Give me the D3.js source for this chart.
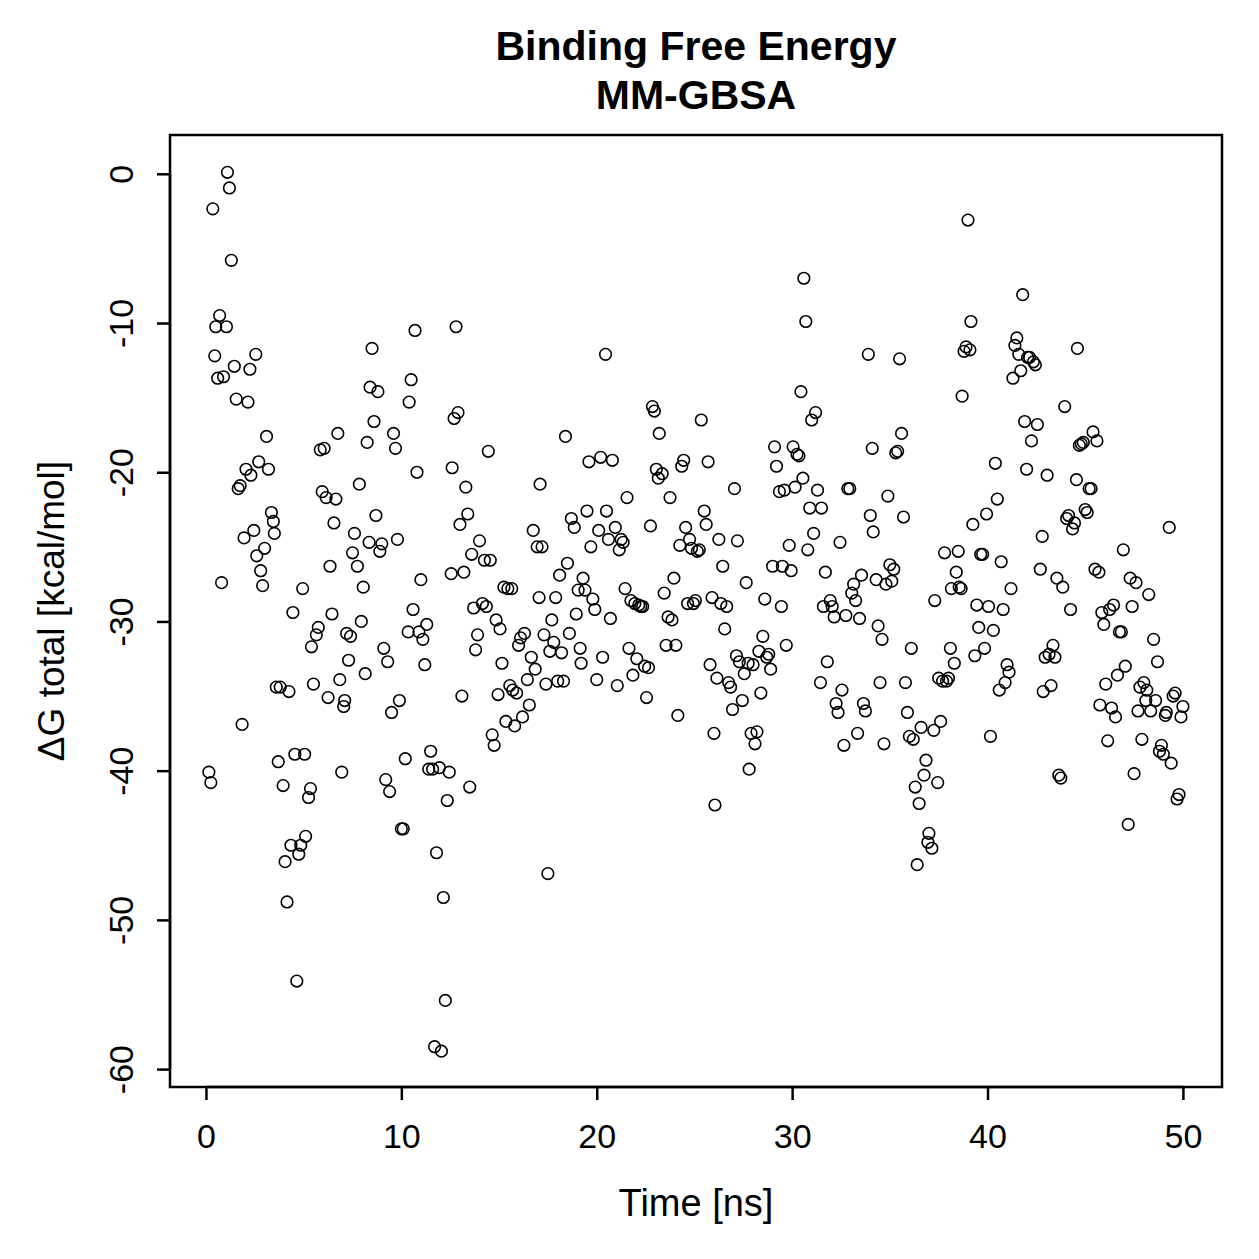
<!DOCTYPE html>
<html lang="en">
<head>
<meta charset="utf-8">
<title>Binding Free Energy MM-GBSA</title>
<script src="https://d3js.org/d3.v7.min.js"></script>
<style>
  body { margin: 0; background: #fff; }
  text { font-family: "Liberation Sans", Arial, Helvetica, sans-serif; fill: #000; }
</style>
</head>
<body>
<div id="chart"></div>
<script>
// time in ns
var time = [
  0.15,0.25,0.35,0.45,0.5,0.6,0.7,0.8,0.9,1.05,1.1,1.2,1.3,1.45,1.55,1.65,1.75,1.85,1.95,2.05,
  2.15,2.25,2.3,2.45,2.55,2.6,2.7,2.8,2.9,3.0,3.1,3.2,3.35,3.45,3.5,3.6,3.7,3.8,3.95,4.05,
  4.15,4.25,4.35,4.45,4.55,4.65,4.75,4.85,4.95,5.05,5.1,5.25,5.35,5.4,5.5,5.65,5.75,5.85,5.95,6.05,
  6.15,6.25,6.35,6.45,6.55,6.65,6.75,6.85,6.95,7.05,7.1,7.2,7.3,7.4,7.5,7.6,7.75,7.85,7.95,8.05,
  8.15,8.25,8.35,8.4,8.5,8.6,8.7,8.8,8.9,9.0,9.1,9.2,9.3,9.4,9.5,9.6,9.7,9.8,9.9,10.0,
  10.1,10.2,10.35,10.4,10.5,10.6,10.7,10.8,10.9,11.0,11.1,11.2,11.3,11.4,11.5,11.6,11.7,11.8,11.95,12.05,
  12.15,12.25,12.35,12.45,12.55,12.6,12.7,12.8,12.9,13.0,13.1,13.2,13.3,13.4,13.5,13.6,13.7,13.8,13.9,14.0,
  14.15,14.25,14.35,14.45,14.55,14.65,14.75,14.85,14.95,15.05,15.15,15.25,15.35,15.45,15.55,15.65,15.7,15.8,15.9,16.0,
  16.1,16.2,16.3,16.45,16.55,16.65,16.75,16.85,16.95,17.05,17.1,17.2,17.3,17.4,17.5,17.6,17.7,17.8,17.9,18.0,
  18.1,18.2,18.3,18.4,18.5,18.6,18.7,18.85,18.95,19.05,19.15,19.2,19.3,19.4,19.5,19.6,19.7,19.8,19.9,20.0,
  20.1,20.2,20.3,20.45,20.5,20.6,20.7,20.8,20.95,21.05,21.15,21.25,21.35,21.45,21.55,21.65,21.75,21.85,21.95,22.05,
  22.15,22.25,22.35,22.45,22.55,22.65,22.75,22.85,22.95,23.05,23.15,23.2,23.35,23.45,23.55,23.65,23.75,23.85,23.95,24.05,
  24.15,24.25,24.35,24.45,24.55,24.65,24.75,24.85,24.95,25.05,25.15,25.25,25.35,25.5,25.6,25.7,25.8,25.9,26.0,26.05,
  26.15,26.25,26.35,26.45,26.55,26.65,26.75,26.85,26.95,27.05,27.15,27.2,27.3,27.45,27.55,27.65,27.75,27.8,27.9,28.0,
  28.1,28.2,28.3,28.4,28.5,28.6,28.7,28.8,28.9,29.0,29.1,29.2,29.35,29.45,29.5,29.6,29.7,29.85,29.95,30.05,
  30.15,30.25,30.35,30.45,30.55,30.6,30.7,30.8,30.9,31.0,31.1,31.2,31.3,31.45,31.5,31.6,31.7,31.8,31.95,32.05,
  32.15,32.25,32.35,32.45,32.55,32.65,32.75,32.85,32.95,33.05,33.15,33.25,33.35,33.45,33.55,33.65,33.75,33.9,34.0,34.1,
  34.15,34.3,34.4,34.5,34.6,34.7,34.8,34.9,35.0,35.1,35.2,35.3,35.4,35.5,35.6,35.7,35.8,35.9,36.0,36.1,
  36.2,36.3,36.4,36.5,36.6,36.75,36.85,36.95,37.0,37.15,37.25,37.3,37.45,37.5,37.6,37.7,37.8,37.9,38.0,38.1,
  38.15,38.3,38.4,38.5,38.55,38.65,38.7,38.8,38.9,39.0,39.1,39.15,39.25,39.35,39.45,39.55,39.65,39.75,39.85,39.95,
  40.05,40.15,40.3,40.4,40.5,40.6,40.7,40.8,40.9,41.0,41.1,41.2,41.3,41.4,41.5,41.6,41.7,41.8,41.9,42.0,
  42.05,42.15,42.25,42.35,42.45,42.55,42.7,42.8,42.85,42.95,43.05,43.15,43.25,43.35,43.45,43.55,43.65,43.75,43.85,43.95,
  44.05,44.15,44.25,44.35,44.45,44.55,44.6,44.7,44.8,44.9,45.0,45.1,45.2,45.3,45.4,45.5,45.6,45.7,45.75,45.85,
  45.95,46.05,46.15,46.25,46.35,46.45,46.55,46.65,46.75,46.85,46.95,47.05,47.2,47.3,47.4,47.5,47.6,47.7,47.8,47.9,
  48.0,48.1,48.15,48.25,48.35,48.5,48.6,48.7,48.8,48.9,49.0,49.1,49.15,49.3,49.4,49.5,49.6,49.7,49.8,49.9,
  50.0
];

// delta G total in kcal/mol
var dG = [
  -40.1,-40.8,-2.35,-12.2,-10.25,-13.7,-9.5,-27.4,-13.6,-10.25,0.1,-0.95,-5.8,-12.9,-15.1,-21.1,-20.9,-36.9,-24.4,-19.8,
  -15.3,-13.1,-20.2,-23.9,-12.1,-25.6,-19.3,-26.6,-27.6,-25.1,-17.6,-19.8,-22.7,-23.3,-24.1,-34.4,-39.4,-34.4,-41.0,-46.1,
  -48.8,-34.7,-45.0,-29.4,-38.9,-54.1,-45.6,-45.0,-27.8,-38.9,-44.4,-41.8,-41.2,-31.7,-34.2,-30.9,-30.4,-18.5,-21.3,-18.4,
  -21.7,-35.1,-26.3,-29.5,-23.4,-21.8,-17.4,-33.9,-40.1,-35.7,-35.3,-30.8,-32.6,-31.0,-25.4,-24.1,-26.3,-20.8,-30.0,-27.7,
  -33.5,-18.0,-24.7,-14.3,-11.7,-16.6,-22.9,-14.6,-25.3,-24.8,-31.8,-40.6,-32.7,-41.4,-36.1,-17.4,-18.4,-24.5,-35.3,-43.9,
  -43.9,-39.2,-30.7,-15.3,-13.8,-29.2,-10.5,-20.0,-30.7,-27.2,-31.2,-32.9,-30.2,-39.9,-38.7,-39.9,-58.5,-45.5,-39.8,-58.8,
  -48.5,-55.4,-42.0,-40.1,-26.8,-19.7,-16.4,-10.25,-16.0,-23.5,-35.0,-26.7,-21.0,-22.8,-41.1,-25.5,-29.1,-31.9,-30.9,-24.6,
  -28.8,-25.9,-29.0,-18.6,-25.9,-37.6,-38.3,-29.9,-34.9,-30.5,-32.8,-27.7,-36.7,-27.8,-34.3,-27.8,-34.6,-37.0,-34.8,-31.6,
  -31.1,-36.4,-30.8,-33.9,-35.6,-32.4,-23.9,-33.2,-25.0,-28.4,-20.8,-25.0,-30.9,-34.2,-46.9,-32.0,-29.9,-31.4,-28.4,-34.0,
  -26.9,-32.1,-34.0,-17.6,-26.1,-30.8,-23.1,-23.7,-29.5,-27.9,-31.8,-32.8,-27.1,-27.9,-22.6,-19.3,-25.0,-28.5,-29.2,-33.9,
  -23.9,-19.0,-32.4,-12.1,-22.6,-24.5,-29.8,-19.2,-23.7,-34.3,-25.2,-24.5,-24.7,-27.8,-21.7,-31.8,-28.6,-33.6,-28.8,-32.5,
  -28.9,-29.0,-29.0,-33.0,-35.1,-33.1,-23.6,-15.6,-15.9,-19.8,-20.4,-17.4,-20.1,-28.1,-31.6,-29.7,-21.7,-29.9,-27.1,-31.6,
  -36.3,-24.9,-19.6,-19.2,-23.7,-28.8,-24.5,-25.1,-28.8,-28.6,-25.3,-25.2,-16.5,-22.6,-23.5,-19.3,-32.9,-28.4,-37.5,-42.3,
  -33.8,-24.5,-28.8,-26.3,-30.5,-29.0,-34.1,-34.4,-35.9,-21.1,-32.3,-24.6,-32.7,-35.3,-33.5,-27.4,-32.8,-39.9,-37.5,-32.9,
  -38.2,-37.4,-32.0,-34.8,-31.0,-28.5,-32.4,-32.2,-33.2,-26.3,-18.3,-19.6,-21.3,-29.0,-26.3,-21.2,-31.6,-24.9,-26.6,-18.3,
  -21.0,-18.8,-18.9,-14.6,-20.4,-7.0,-9.9,-25.2,-22.4,-16.5,-24.1,-16.0,-21.2,-34.1,-22.4,-29.0,-26.7,-32.7,-28.6,-29.0,
  -29.7,-35.5,-36.1,-24.7,-34.6,-38.3,-29.6,-21.1,-21.1,-28.1,-27.5,-28.6,-37.5,-29.8,-26.9,-35.5,-36.0,-12.1,-22.9,-18.4,
  -24.0,-27.2,-30.3,-34.1,-31.2,-38.2,-27.5,-21.6,-26.2,-27.3,-26.5,-18.7,-18.6,-12.4,-17.4,-23.0,-34.1,-36.1,-37.7,-31.8,
  -37.9,-41.1,-46.3,-42.2,-37.1,-40.3,-39.3,-44.8,-44.2,-45.2,-37.3,-28.6,-40.8,-33.8,-36.7,-34.0,-25.4,-34.0,-33.8,-31.8,
  -27.8,-32.8,-26.7,-25.3,-27.7,-27.8,-14.9,-11.9,-11.6,-3.1,-11.8,-9.9,-23.5,-32.3,-28.9,-30.4,-25.5,-25.5,-31.8,-22.8,
  -29.0,-37.7,-30.6,-19.4,-21.8,-34.6,-26.0,-29.2,-34.1,-32.9,-33.4,-27.8,-13.7,-11.5,-11.0,-12.1,-13.2,-8.1,-16.6,-19.8,
  -12.3,-12.3,-17.9,-12.6,-12.8,-16.8,-26.5,-24.3,-34.7,-32.4,-20.2,-32.2,-34.3,-31.6,-32.4,-27.1,-40.3,-40.5,-27.7,-15.6,
  -23.1,-22.9,-29.2,-23.8,-23.4,-20.5,-11.7,-18.2,-18.1,-18.0,-22.5,-22.7,-21.1,-21.1,-17.3,-26.5,-17.9,-26.7,-35.6,-29.4,
  -30.2,-34.2,-38.0,-29.2,-35.8,-28.9,-36.4,-33.6,-30.7,-30.7,-25.2,-33.0,-43.6,-27.1,-29.0,-40.2,-27.4,-36.0,-34.4,-37.9,
  -34.1,-35.3,-34.6,-28.2,-36.0,-31.2,-35.3,-32.7,-38.7,-38.3,-38.9,-36.3,-36.1,-23.7,-39.5,-35.0,-34.8,-41.9,-41.6,-36.4,
  -35.7
];

var xTicks = [0, 10, 20, 30, 40, 50];
var yTicks = [0, -10, -20, -30, -40, -50, -60];

drawPlot();

function drawPlot() {
  var w = 1259, h = 1259;
  var pLeft = 170, pRight = 1222, pTop = 135, pBottom = 1087;

  var svg = d3.select("#chart")
    .append("svg")
    .attr("width", w)
    .attr("height", h);

  var xScale = d3.scaleLinear()
    .domain([-1.84, 52.0])
    .range([pLeft, pRight]);

  var yScale = d3.scaleLinear()
    .domain([-61.2, 2.6])
    .range([pBottom, pTop]);

  // points
  svg.selectAll("circle")
    .data(time)
    .enter()
    .append("circle")
    .attr("cx", function(d) { return xScale(d); })
    .attr("cy", function(d, i) { return yScale(dG[i]); })
    .attr("r", 5.8)
    .style("fill", "none")
    .style("stroke", "#000")
    .style("stroke-width", 1.6);

  // box
  svg.append("rect")
    .attr("x", pLeft)
    .attr("y", pTop)
    .attr("width", pRight - pLeft)
    .attr("height", pBottom - pTop)
    .style("fill", "none")
    .style("stroke", "#000")
    .style("stroke-width", 2.5);

  // x axis
  var xAxis = d3.axisBottom(xScale)
    .tickValues(xTicks)
    .tickSize(13)
    .tickPadding(24)
    .tickFormat(function(d) { return String(d); });

  var gx = svg.append("g")
    .attr("transform", "translate(0," + pBottom + ")")
    .call(xAxis);
  gx.select(".domain")
    .attr("d", "M" + xScale(0) + ",0H" + xScale(50))
    .style("stroke-width", 2.5);
  gx.selectAll(".tick line").style("stroke-width", 2.5);
  gx.selectAll(".tick text")
    .style("font-size", "34px")
    .style("font-family", "'Liberation Sans', Arial, sans-serif");

  // y axis, labels parallel to the axis with plain hyphen minus as in R
  var yAxis = d3.axisLeft(yScale)
    .tickValues(yTicks)
    .tickSize(13)
    .tickFormat(function(d) { return String(d); });

  var gy = svg.append("g")
    .attr("transform", "translate(" + pLeft + ",0)")
    .call(yAxis);
  gy.select(".domain")
    .attr("d", "M0," + yScale(0) + "V" + yScale(-60))
    .style("stroke-width", 2.5);
  gy.selectAll(".tick line").style("stroke-width", 2.5);
  gy.selectAll(".tick text")
    .attr("x", null)
    .attr("dy", null)
    .attr("transform", "translate(-37,0) rotate(-90)")
    .style("text-anchor", "middle")
    .style("font-size", "34px")
    .style("font-family", "'Liberation Sans', Arial, sans-serif");

  // axis titles
  svg.append("text")
    .attr("x", (pLeft + pRight) / 2)
    .attr("y", 1216)
    .attr("text-anchor", "middle")
    .style("font-size", "38px")
    .text("Time [ns]");

  svg.append("text")
    .attr("transform", "translate(64," + (pTop + pBottom) / 2 + ") rotate(-90)")
    .attr("text-anchor", "middle")
    .style("font-size", "37px")
    .text("\u0394G total [kcal/mol]");

  // title
  svg.append("text")
    .attr("x", (pLeft + pRight) / 2)
    .attr("y", 60)
    .attr("text-anchor", "middle")
    .style("font-size", "41px")
    .style("font-weight", "bold")
    .text("Binding Free Energy");

  svg.append("text")
    .attr("x", (pLeft + pRight) / 2)
    .attr("y", 109)
    .attr("text-anchor", "middle")
    .style("font-size", "41px")
    .style("font-weight", "bold")
    .text("MM-GBSA");
}
</script>
</body>
</html>
